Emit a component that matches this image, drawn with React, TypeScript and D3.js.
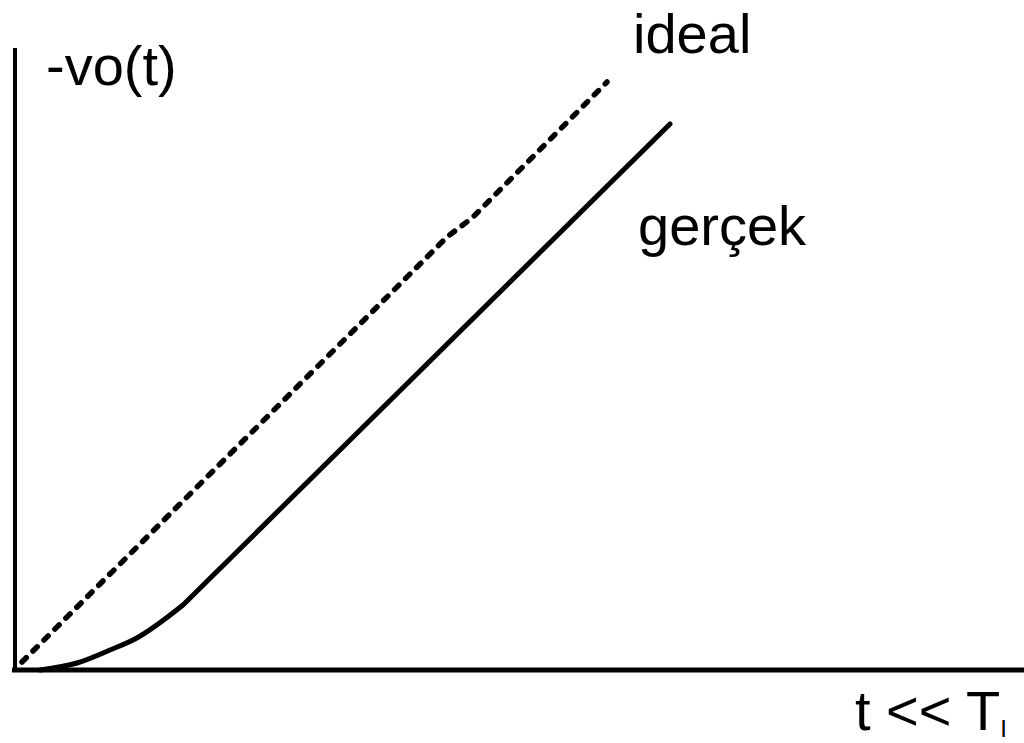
import React from "react";
import * as d3 from "d3";

// Time axis (arbitrary units) and output voltage -vo(t) for the two responses
const idealT = [0.07, 4.32, 4.57, 5.92];
const idealV = [0.08, 4.33, 4.52, 5.88];

const realT = [0.25, 0.62, 0.95, 1.2, 1.68, 6.55];
const realV = [0.0, 0.07, 0.2, 0.31, 0.65, 5.46];

const labels = {
  yAxis: "-vo(t)",
  xAxis: "t << T",
  xAxisSub: "I",
  ideal: "ideal",
  real: "gerçek",
};

const W = 1024;
const H = 743;

export default function App() {
  const x = d3.scaleLinear().domain([0, 10]).range([15, 1015]);
  const y = d3.scaleLinear().domain([0, 6.25]).range([670, 45]);

  const line = d3
    .line<[number, number]>()
    .x((d) => x(d[0]))
    .y((d) => y(d[1]));

  const smooth = d3
    .line<[number, number]>()
    .x((d) => x(d[0]))
    .y((d) => y(d[1]))
    .curve(d3.curveMonotoneX);

  const idealPts = idealT.map((t, i) => [t, idealV[i]] as [number, number]);
  const realPts = realT.map((t, i) => [t, realV[i]] as [number, number]);
  // rounded start-up portion, then the straight ramp
  const knee = realPts.length - 2;
  const realPath =
    (smooth(realPts.slice(0, knee + 1)) ?? "") +
    (line(realPts.slice(knee)) ?? "").replace(/^M[^L]*/, "");

  const font = "'Liberation Sans', Arial, sans-serif";

  return (
    <svg
      width={W}
      height={H}
      style={{ position: "absolute", left: 0, top: 0, background: "#fff" }}
    >
      {/* axes */}
      <line x1={x(0)} y1={48} x2={x(0)} y2={y(0) + 2} stroke="#000" strokeWidth={4} />
      <line x1={12} y1={y(0)} x2={W} y2={y(0)} stroke="#000" strokeWidth={5} />

      {/* ideal response */}
      <path
        d={line(idealPts) ?? ""}
        fill="none"
        stroke="#000"
        strokeWidth={5.5}
        strokeDasharray="6 9.5"
        strokeLinecap="round"
        strokeLinejoin="round"
      />

      {/* real response */}
      <path
        d={realPath}
        fill="none"
        stroke="#000"
        strokeWidth={5}
        strokeLinecap="round"
        strokeLinejoin="round"
      />

      <g fontFamily={font} fill="#000" fontSize={56}>
        <text x={46} y={85}>{labels.yAxis}</text>
        <text x={633} y={53}>{labels.ideal}</text>
        <text x={638} y={245}>{labels.real}</text>
        <text x={855} y={730}>
          {labels.xAxis}
          <tspan fontSize={24} dy={7}>{labels.xAxisSub}</tspan>
        </text>
      </g>
    </svg>
  );
}
